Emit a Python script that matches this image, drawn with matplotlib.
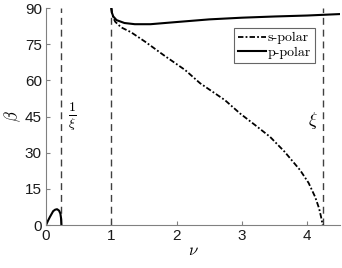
import matplotlib
matplotlib.use("Agg")
import matplotlib.pyplot as plt

plt.rcParams['mathtext.fontset'] = 'cm'
plt.rcParams['font.family'] = ['Liberation Sans', 'DejaVu Sans']

xi = 4.236
inv_xi = 1 / xi

# small branch between 0 and 1/xi
b_nu = [0, 0.03, 0.06, 0.11, 0.14, 0.17, 0.20, 0.22, 0.23, 0.236]
b_beta = [0, 1.8, 3.4, 5.8, 6.4, 6.6, 6.0, 4.8, 3.0, 0]

# s-polar
s_nu = [1.0, 1.01, 1.03, 1.06, 1.15, 1.3, 1.52, 1.8, 2.13, 2.36, 2.74, 2.97,
        3.2, 3.43, 3.65, 3.89, 4.02, 4.12, 4.18, 4.21, 4.236]
s_beta = [90, 88, 86, 84.3, 82, 80, 76, 70.5, 64.3, 58.8, 51.8, 46.3,
          41.5, 36.6, 30.5, 22.8, 17.5, 11.7, 7, 3.5, 0]

# p-polar
p_nu = [1.0, 1.01, 1.03, 1.08, 1.2, 1.36, 1.6, 2.0, 2.5, 3.0, 3.5, 4.0, 4.5]
p_beta = [90, 88, 86.5, 85, 83.8, 83.3, 83.3, 84.2, 85.3, 86.0, 86.5, 86.9, 87.5]

fig = plt.figure(figsize=(3.42, 2.68), dpi=100)
ax = fig.add_axes([0.1345, 0.160, 0.8595, 0.810])

for v in [inv_xi, 1, xi]:
    ax.axvline(v, color='#404040', lw=1.0, ls=(0, (5, 3.5)))

ax.plot(b_nu, b_beta, color='k', lw=1.5)
ax.plot(s_nu, s_beta, color='k', lw=1.3, ls=(0, (3, 1.2, 1, 1.2)), label='s-polar')
ax.plot(p_nu, p_beta, color='k', lw=1.5, label='p-polar')

ax.set_xlim(0, 4.5)
ax.set_ylim(0, 90)
ax.set_xticks([0, 1, 2, 3, 4])
ax.set_yticks([0, 15, 30, 45, 60, 75, 90])
for s in ['top', 'right']:
    ax.spines[s].set_visible(False)
for s in ['left', 'bottom']:
    ax.spines[s].set_color('#808080')
ax.tick_params(direction='in', length=3, color='#808080', labelsize=11,
               labelcolor='#1a1a1a', pad=3)

ax.set_xlabel(r'$\nu$', fontsize=12, labelpad=0)
ax.set_ylabel(r'$\beta$', fontsize=12, labelpad=1)

ax.text(0.4, 45, r'$\mathbf{\frac{1}{\xi}}$', fontsize=14, ha='center', va='center')
ax.text(4.09, 43.5, r'$\xi$', fontsize=13, ha='center', va='center')

leg = ax.legend(loc='upper right', bbox_to_anchor=(0.915, 0.91), fancybox=False,
                handlelength=2.0, handletextpad=0.1, borderpad=0.3, labelspacing=0.15,
                borderaxespad=0, prop={'family': 'cmr10', 'size': 10})
leg.get_frame().set_edgecolor('#404040')
leg.get_frame().set_linewidth(0.8)

fig.savefig('out.png', dpi=100)
